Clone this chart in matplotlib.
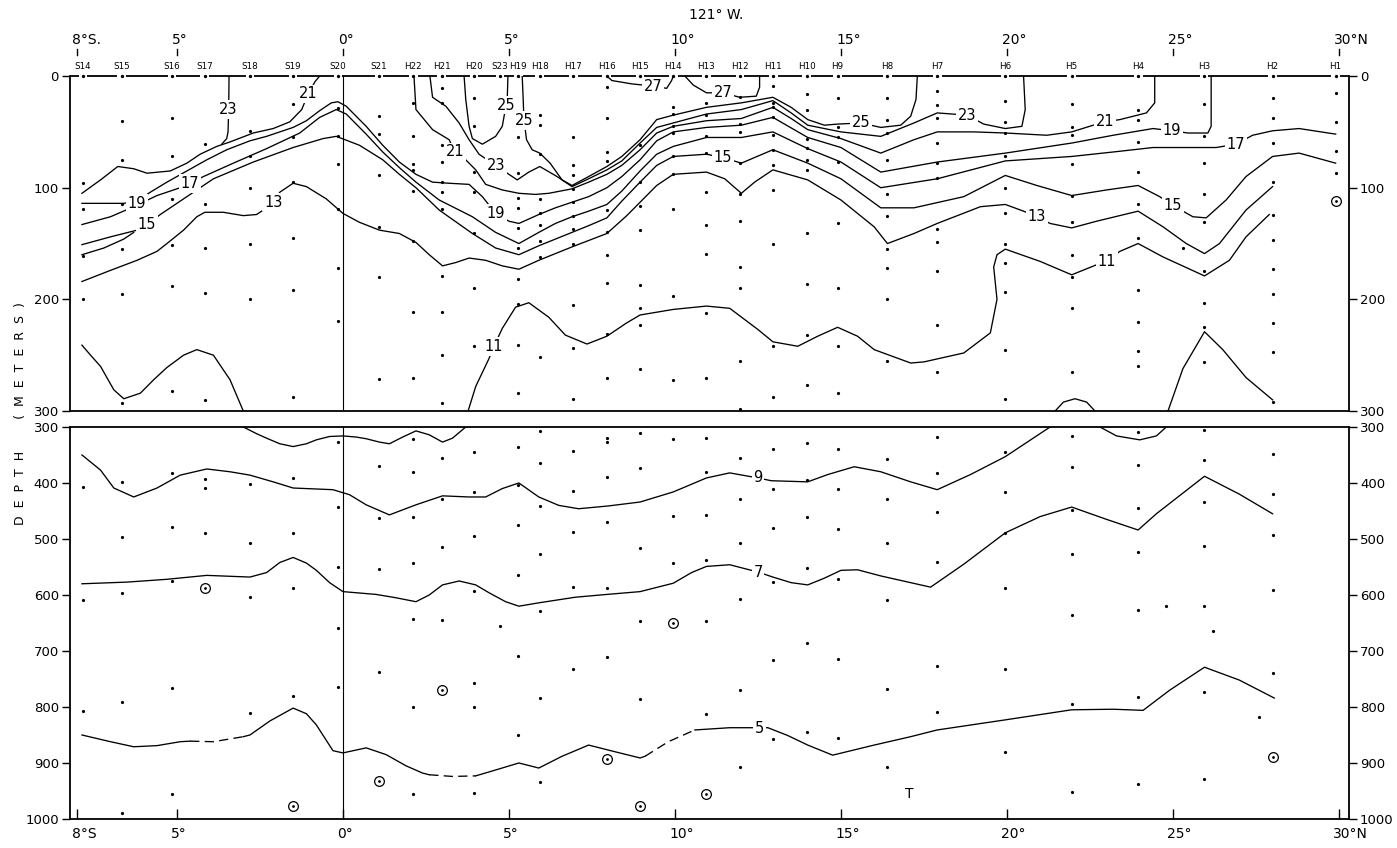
import matplotlib
matplotlib.use("Agg")
import matplotlib.pyplot as plt
import matplotlib.transforms as mtrans

# stations along 121 W, latitude in degrees (negative = south)
stations = ["S14", "S15", "S16", "S17", "S18", "S19", "S20", "S21", "H22", "H21",
            "H20", "S23", "H19", "H18", "H17", "H16", "H15", "H14", "H13", "H12",
            "H11", "H10", "H9", "H8", "H7", "H6", "H5", "H4", "H3", "H2", "H1"]
station_lat = [-7.83, -6.66, -5.15, -4.16, -2.80, -1.50, -0.15, 1.09, 2.12, 2.97,
               3.95, 4.73, 5.28, 5.93, 6.94, 7.94, 8.95, 9.95, 10.95, 11.96,
               12.96, 13.97, 14.90, 16.40, 17.90, 19.94, 21.95, 23.96, 25.94, 28.0, 29.9]

# sampled depths (m) at each station, 0-300 m
top_dots = [
    [96, 119, 161, 200], [40, 75, 115, 155, 195, 293], [38, 72, 110, 151, 188, 282],
    [61, 115, 154, 194, 290], [49, 72, 100, 150, 200], [25, 55, 95, 145, 192, 287],
    [29, 54, 79, 119, 172, 219], [36, 52, 89, 135, 180, 271],
    [24, 54, 79, 84, 103, 148, 211, 270], [11, 24, 62, 77, 95, 104, 119, 179, 211, 250, 293],
    [20, 45, 86, 104, 141, 190, 242], [],
    [55, 87, 109, 118, 136, 154, 182, 204, 241, 284], [35, 44, 70, 110, 123, 133, 148, 162, 252],
    [55, 80, 89, 101, 113, 125, 137, 150, 205, 244, 289], [10, 38, 68, 76, 120, 140, 160, 185, 231, 270],
    [62, 95, 116, 138, 187, 208, 223, 262], [28, 34, 45, 51, 72, 88, 119, 197, 272],
    [24, 35, 54, 69, 104, 133, 159, 212, 270], [19, 43, 50, 78, 106, 130, 171, 190, 255, 298],
    [9, 24, 28, 37, 53, 66, 80, 102, 150, 242, 287], [16, 30, 56, 64, 75, 84, 141, 186, 232, 277],
    [20, 46, 55, 77, 132, 190, 242, 284], [20, 39, 51, 75, 106, 125, 155, 172, 200, 255],
    [13, 26, 38, 60, 78, 91, 137, 149, 175, 223, 265], [22, 41, 51, 72, 100, 123, 150, 167, 193, 245, 289],
    [25, 46, 53, 79, 107, 131, 160, 180, 208, 265], [30, 39, 59, 86, 115, 145, 192, 220, 246, 260],
    [25, 54, 78, 106, 131, 175, 203, 225, 256], [20, 38, 60, 95, 124, 147, 173, 195, 221, 247, 292],
    [15, 41, 67, 87]]

# sampled depths (m) at each station, 300-1000 m
deep_dots = [
    [407, 609, 807], [398, 497, 596, 791, 989], [382, 479, 575, 766, 956], [393, 409, 489],
    [402, 507, 604, 811], [391, 489, 588, 780], [327, 443, 550, 659, 764], [370, 463, 554, 738],
    [321, 380, 461, 543, 643, 800, 956], [355, 429, 514, 645], [345, 416, 495, 593, 757, 800, 954],
    [655], [336, 404, 475, 564, 709, 850], [307, 364, 441, 527, 629, 784, 934],
    [343, 414, 487, 586, 733], [320, 327, 389, 470, 587, 711], [311, 373, 516, 646, 786],
    [321, 459, 543], [320, 380, 457, 538, 646, 813], [355, 429, 507, 607, 770, 907],
    [339, 411, 480, 577, 716, 857], [329, 395, 461, 552, 686, 845], [339, 411, 482, 571, 714, 855],
    [357, 429, 507, 609, 768, 907], [318, 382, 452, 541, 727, 809], [345, 416, 489, 588, 732, 880],
    [316, 371, 448, 527, 636, 795, 952], [309, 368, 445, 523, 627, 782, 937],
    [305, 359, 434, 513, 620, 773, 929], [348, 420, 493, 591, 739], []]

extra_top_dots = [(25.3, 154)]
extra_deep_dots = [(24.8, 620), (26.2, 664), (27.6, 818)]
circled_top = [(29.9, 112)]
circled_deep = [(-4.16, 587), (-1.5, 977), (1.09, 932), (2.97, 770), (7.94, 892),
                (8.95, 977), (9.95, 650), (10.95, 955), (28.0, 889)]

# isotherms, (latitude, depth m), upper panel
iso27a = [(7.95, 0), (8.1, 4), (8.7, 7), (9.35, 9), (9.75, 11), (9.9, 4), (9.95, 0)]
iso27b = [(10.3, 0), (10.55, 8), (10.95, 15), (11.45, 15), (11.95, 19), (12.45, 18), (12.55, 10), (12.55, 0)]
iso25a = [(3.65, 0), (3.7, 21), (3.8, 45), (3.9, 56), (4.2, 61), (4.6, 54), (4.8, 45), (4.95, 20), (4.97, 0)]
iso25b = [(5.4, 0), (5.43, 21), (5.45, 38), (5.53, 57), (5.7, 66), (5.93, 69), (6.24, 78), (6.6, 93),
          (6.9, 98), (7.4, 90), (7.95, 81), (8.4, 72), (8.95, 57), (9.45, 39), (9.95, 35), (10.95, 28),
          (12.0, 24), (12.95, 19), (13.5, 28), (14.0, 39), (14.5, 44), (14.9, 43), (15.6, 42),
          (16.2, 46), (16.8, 44), (17.1, 36), (17.26, 21), (17.3, 0)]
iso23a = [(-3.43, 0), (-3.44, 30), (-3.46, 50), (-3.5, 56), (-3.65, 61)]
iso23b = [(2.62, 0), (2.7, 19), (3.1, 27), (3.5, 42), (3.8, 57), (4.1, 70), (4.6, 80), (5.0, 88),
          (5.25, 93), (5.6, 86), (5.93, 81), (6.45, 90), (6.9, 99), (7.4, 92), (7.95, 84), (8.4, 76),
          (8.95, 60), (9.45, 46), (9.95, 42), (10.95, 34), (12.0, 30), (12.95, 22), (13.5, 33),
          (14.0, 44), (15.0, 50), (16.2, 54), (17.2, 42), (17.9, 33), (18.8, 35), (19.3, 43),
          (19.95, 47), (20.45, 45), (20.55, 30), (20.5, 0)]
iso21a = [(-7.86, 105), (-7.3, 93), (-6.78, 81), (-6.3, 83), (-5.9, 87), (-5.2, 85), (-4.7, 78),
          (-4.3, 70), (-3.8, 63), (-3.4, 59), (-2.7, 51), (-2.1, 47), (-1.6, 41), (-1.24, 30),
          (-1.05, 16), (-0.84, 5), (-0.7, 0)]
iso21b = [(2.14, 0), (2.2, 30), (2.7, 48), (3.2, 57), (3.37, 68), (3.7, 75), (4.0, 84), (4.3, 97),
          (4.8, 102), (5.3, 105), (5.8, 106), (6.2, 105), (6.9, 101), (7.4, 95), (7.95, 88), (8.4, 80),
          (8.95, 66), (9.45, 51), (9.95, 45), (10.95, 40), (12.0, 38), (12.95, 28), (13.5, 38),
          (14.0, 48), (15.0, 56), (16.2, 69), (17.2, 57), (17.9, 50), (19.0, 50), (19.95, 51),
          (21.2, 53), (21.95, 50), (22.6, 44), (22.95, 41), (23.4, 39), (24.2, 33), (24.45, 24), (24.45, 0)]
iso19 = [(-7.86, 114), (-6.6, 114), (-6.2, 112), (-5.8, 104), (-5.3, 95), (-4.7, 85), (-4.1, 75),
         (-3.5, 66), (-2.8, 58), (-2.3, 54), (-1.5, 46), (-1.1, 40), (-0.7, 31), (-0.35, 24),
         (-0.15, 23), (0.1, 27), (0.7, 45), (1.2, 62), (1.7, 77), (2.2, 88), (2.7, 95), (3.2, 96),
         (3.8, 97), (4.2, 108), (4.6, 123), (5.0, 130), (5.3, 132), (5.9, 124), (6.4, 118), (6.9, 113),
         (7.4, 108), (7.95, 100), (8.4, 90), (8.95, 75), (9.45, 58), (9.95, 50), (10.95, 46),
         (12.0, 44), (12.95, 37), (14.0, 55), (15.0, 64), (16.2, 86), (17.9, 77), (19.95, 69),
         (21.95, 60), (23.2, 53), (24.4, 47), (24.97, 49), (25.45, 51), (26.05, 51), (26.15, 45), (26.15, 0)]
iso17 = [(-7.86, 133), (-7.0, 126), (-6.3, 117), (-5.6, 107), (-4.9, 100), (-4.6, 96), (-4.2, 90),
         (-3.3, 78), (-2.3, 65), (-1.3, 51), (-0.7, 37), (-0.2, 30), (0.1, 34), (0.7, 52), (1.2, 68),
         (1.7, 82), (2.2, 95), (2.9, 111), (3.9, 126), (4.6, 140), (5.3, 150), (5.9, 140), (6.4, 132),
         (6.9, 126), (7.4, 121), (7.95, 115), (8.4, 103), (8.95, 85), (9.45, 70), (9.95, 63),
         (10.95, 55), (12.0, 55), (12.95, 50), (14.0, 65), (15.0, 77), (16.2, 100), (17.9, 92),
         (19.95, 76), (21.95, 72), (23.2, 68), (24.4, 64), (25.5, 64), (26.3, 64), (26.9, 61),
         (27.4, 53), (28.0, 49), (28.8, 47), (29.9, 52)]
iso15 = [(-7.86, 151), (-7.0, 144), (-6.2, 138), (-5.9, 133), (-5.5, 124), (-4.7, 108), (-3.9, 92),
         (-2.7, 77), (-1.5, 64), (-0.6, 56), (-0.2, 54), (0.5, 62), (1.2, 75), (1.7, 88), (2.2, 100),
         (2.9, 120), (3.9, 141), (4.6, 154), (5.3, 160), (5.9, 152), (6.4, 146), (6.9, 140), (7.4, 134),
         (7.95, 127), (8.4, 112), (8.95, 95), (9.45, 80), (9.95, 72), (10.95, 70), (11.45, 73),
         (12.0, 78), (12.95, 66), (14.0, 78), (15.0, 92), (16.2, 118), (17.2, 118), (18.7, 108),
         (19.95, 89), (20.9, 98), (21.95, 107), (23.0, 102), (23.95, 98), (24.6, 108), (25.0, 116),
         (25.6, 126), (26.0, 127), (26.6, 111), (27.2, 90), (28.0, 72), (28.8, 69), (29.9, 78)]
iso15_hook = [(-7.86, 160), (-7.2, 154), (-6.6, 146), (-6.3, 140)]
iso13 = [(-7.86, 184), (-7.0, 174), (-6.2, 165), (-5.6, 157), (-5.3, 150), (-4.8, 138), (-4.4, 126),
         (-4.16, 122), (-3.6, 122), (-3.0, 125), (-2.6, 124), (-2.3, 118), (-2.1, 113), (-1.9, 104),
         (-1.5, 96), (-1.1, 99), (-0.5, 110), (0.0, 123), (0.5, 131), (1.1, 138), (1.7, 141),
         (2.2, 149), (2.6, 160), (3.0, 170), (3.4, 167), (3.8, 163), (4.3, 165), (4.8, 170),
         (5.3, 173), (5.9, 165), (6.9, 153), (7.95, 141), (8.55, 125), (8.95, 113), (9.45, 98),
         (9.95, 88), (10.95, 86), (11.5, 92), (12.0, 105), (12.4, 95), (12.95, 84), (14.0, 93),
         (15.0, 111), (16.0, 135), (16.4, 150), (17.2, 141), (17.9, 132), (19.2, 117), (19.95, 115),
         (20.5, 121), (20.9, 126), (21.3, 132), (21.95, 136), (22.7, 130), (23.95, 121), (24.7, 135),
         (25.4, 150), (25.95, 159), (26.4, 150), (27.2, 120), (28.0, 99)]
iso11a = [(-7.86, 241), (-7.6, 250), (-7.3, 260), (-6.9, 281), (-6.6, 289), (-6.1, 284), (-5.7, 272),
          (-5.3, 261), (-4.8, 250), (-4.4, 245), (-3.9, 250), (-3.4, 272), (-3.0, 300)]
iso11b = [(3.77, 300), (4.0, 278), (4.4, 253), (4.55, 242), (4.8, 226), (5.2, 207), (5.6, 203),
          (6.2, 216), (6.7, 232), (7.35, 240), (7.95, 233), (8.55, 221), (8.95, 214), (9.95, 209),
          (10.95, 206), (11.65, 208), (12.5, 227), (12.95, 238), (13.7, 242), (14.3, 233), (14.9, 225),
          (15.5, 233), (16.0, 245), (17.1, 257), (17.5, 256), (18.7, 248), (19.5, 230), (19.7, 200),
          (19.6, 171), (19.7, 160), (19.95, 155), (21.0, 166), (21.95, 178), (22.7, 169), (23.0, 166),
          (23.4, 157), (23.95, 150), (24.7, 162), (25.95, 179), (26.7, 165), (27.2, 144), (27.9, 124)]
iso9_up1 = [(21.45, 300), (21.7, 292), (22.05, 289), (22.4, 292), (22.65, 300)]
iso9_up2 = [(24.85, 300), (25.3, 262), (25.95, 229), (26.5, 245), (27.2, 270), (28.0, 290)]

# isotherms, lower panel
iso11_deep = [(-3.0, 300), (-2.6, 312), (-2.3, 320), (-1.9, 330), (-1.5, 335), (-1.1, 330), (-0.8, 323),
              (-0.4, 317), (0.0, 316), (0.4, 318), (0.7, 321), (1.1, 327), (1.4, 330), (1.8, 318),
              (2.2, 307), (2.6, 314), (3.0, 327), (3.3, 320), (3.7, 300)]
iso9 = [(-7.86, 350), (-7.3, 377), (-6.9, 409), (-6.3, 425), (-5.6, 409), (-4.9, 386), (-4.1, 375),
        (-3.4, 380), (-2.8, 386), (-2.1, 398), (-1.5, 409), (-0.3, 412), (0.2, 421), (0.7, 439),
        (1.4, 457), (2.2, 439), (3.0, 423), (3.8, 425), (4.3, 425), (4.8, 410), (5.3, 400), (5.9, 425),
        (6.5, 440), (7.1, 446), (8.0, 441), (8.95, 434), (9.95, 416), (10.95, 391), (11.65, 382),
        (12.5, 391), (12.9, 396), (14.0, 398), (14.6, 385), (15.4, 371), (16.2, 380), (17.1, 398),
        (17.9, 412), (18.9, 385), (19.95, 353), (21.3, 300)]
iso9_deep_arc = [(22.8, 300), (23.3, 316), (24.0, 323), (24.5, 316), (24.8, 300)]
iso7 = [(-7.86, 580), (-6.5, 577), (-5.3, 572), (-4.1, 565), (-2.8, 568), (-2.3, 560), (-1.9, 542),
        (-1.5, 533), (-1.1, 543), (-0.8, 556), (-0.4, 578), (0.0, 594), (1.0, 599), (1.6, 605),
        (2.2, 612), (2.6, 600), (3.0, 582), (3.5, 575), (4.0, 582), (4.4, 596), (4.9, 612), (5.3, 620),
        (5.9, 614), (7.0, 604), (7.95, 599), (8.95, 594), (9.95, 579), (10.5, 560), (10.95, 549),
        (11.65, 546), (12.5, 559), (12.95, 568), (13.5, 578), (14.0, 582), (14.5, 570), (15.0, 556),
        (15.5, 555), (16.2, 566), (17.1, 578), (17.7, 586), (18.7, 545), (19.95, 489), (21.0, 460),
        (21.95, 443), (23.0, 465), (23.95, 484), (24.5, 455), (25.95, 388), (27.0, 420), (28.0, 455)]
iso5 = [(-7.86, 850), (-7.0, 862), (-6.3, 871), (-5.6, 869), (-4.9, 862), (-4.6, 861), (-3.9, 862),
        (-3.0, 853), (-2.8, 850), (-2.2, 825), (-1.5, 802), (-1.1, 812), (-0.8, 832), (-0.3, 878),
        (0.0, 882), (0.7, 873), (1.3, 885), (1.9, 905), (2.4, 918), (2.6, 921), (3.3, 924), (4.0, 923),
        (4.4, 916), (5.3, 900), (5.9, 909), (6.6, 888), (7.4, 868), (8.2, 880), (8.95, 891), (9.1, 888),
        (9.8, 862), (10.6, 841), (11.65, 837), (12.8, 837), (13.4, 851), (14.0, 868), (14.75, 886),
        (16.0, 868), (17.1, 853), (17.9, 841), (19.95, 823), (21.95, 805), (23.2, 804), (24.1, 806),
        (24.9, 770), (25.95, 729), (27.0, 752), (28.05, 784)]
iso5_dashed = [(-4.6, -3.0), (2.6, 4.0), (9.1, 10.6)]

top_labels = [("23", -3.45, 30), ("21", -1.05, 16), ("19", -6.2, 114), ("17", -4.6, 96),
              ("15", -5.9, 133), ("13", -2.1, 113), ("11", 4.55, 242), ("21", 3.37, 68),
              ("23", 4.6, 80), ("25", 4.93, 26), ("25", 5.45, 40), ("19", 4.6, 123),
              ("27", 9.35, 9), ("27", 11.45, 15), ("15", 11.45, 73), ("25", 15.6, 42),
              ("23", 18.8, 35), ("21", 22.95, 41), ("19", 24.97, 49), ("17", 26.9, 61),
              ("15", 25.0, 116), ("13", 20.9, 126), ("11", 23.0, 166)]
deep_labels = [("9", 12.5, 391), ("7", 12.5, 559), ("5", 12.55, 839)]

deg_ticks = [-8, -5, 0, 5, 10, 15, 20, 25, 30]
top_deg_labels = ["8°S.", "5°", "0°", "5°", "10°", "15°", "20°", "25°", "30°N"]
bot_deg_labels = ["8°S", "5°", "0°", "5°", "10°", "15°", "20°", "25°", "30°N"]

plt.rcParams["font.family"] = ["DejaVu Sans"]
fig = plt.figure(figsize=(13.97, 8.48), dpi=100)
ax_top = fig.add_axes([0.0501, 0.5153, 0.9155, 0.3950])
ax_bot = fig.add_axes([0.0501, 0.0342, 0.9155, 0.4623])
XLIM = (-8.22, 30.30)
LW = 0.95


def draw_iso(ax, pts, ls="-"):
    ax.plot([p[0] for p in pts], [p[1] for p in pts], color="k", lw=LW, ls=ls,
            solid_joinstyle="round", dash_joinstyle="round", zorder=2)


def draw_dashed_iso(ax, pts, dashed):
    # split into runs of solid / dashed pieces
    run, style = [pts[0]], None
    for a, b in zip(pts[:-1], pts[1:]):
        mid = (a[0] + b[0]) / 2
        s = (0, (7, 4)) if any(lo <= mid <= hi for lo, hi in dashed) else "-"
        if style is None or s == style:
            run.append(b)
        else:
            draw_iso(ax, run, style)
            run = [a, b]
        style = s
    draw_iso(ax, run, style)


def put_label(ax, txt, x, y):
    ax.text(x, y, txt, fontsize=10.5, ha="center", va="center", zorder=4,
            bbox=dict(boxstyle="square,pad=0.12", fc="white", ec="none"))


for ax in (ax_top, ax_bot):
    ax.set_xlim(*XLIM)
    for sp in ax.spines.values():
        sp.set_linewidth(1.3)
    ax.tick_params(axis="y", direction="out", length=6, width=1.0, left=True, right=True,
                   labelleft=True, labelright=True, labelsize=9.5, pad=2)
    ax.axvline(0, color="k", lw=0.8, zorder=1)

ax_top.set_ylim(300, 0)
ax_top.set_yticks([0, 100, 200, 300])
ax_top.set_xticks([])
ax_top.spines["top"].set_visible(False)

ax_bot.set_ylim(1000, 300)
ax_bot.set_yticks([300, 400, 500, 600, 700, 800, 900, 1000])
ax_bot.set_xticks(deg_ticks)
ax_bot.tick_params(axis="x", direction="in", length=7, width=1.0, top=False, labelbottom=False)

# surface line: dashes broken at each station
gap = 0.13
edges = [XLIM[0]] + station_lat + [XLIM[1]]
for i in range(len(edges) - 1):
    a = edges[i] + (gap if i > 0 else 0)
    b = edges[i + 1] - (gap if i < len(edges) - 2 else 0)
    ax_top.plot([a, b], [0, 0], color="k", lw=1.3, clip_on=False, solid_capstyle="butt", zorder=3)
ax_top.plot(station_lat, [0] * len(station_lat), "o", color="k", ms=2.4, mew=0, clip_on=False, zorder=3)

# sample points
DOT = dict(color="k", ms=2.3, mew=0, ls="none", marker="o", zorder=1)
for lat, deps in zip(station_lat, top_dots):
    ax_top.plot([lat] * len(deps), deps, **DOT)
for lat, deps in zip(station_lat, deep_dots):
    ax_bot.plot([lat] * len(deps), deps, **DOT)
for ax, pts in ((ax_top, extra_top_dots), (ax_bot, extra_deep_dots)):
    ax.plot([p[0] for p in pts], [p[1] for p in pts], **DOT)
for ax, pts in ((ax_top, circled_top), (ax_bot, circled_deep)):
    xs, ys = [p[0] for p in pts], [p[1] for p in pts]
    ax.plot(xs, ys, "o", mfc="white", mec="k", mew=0.9, ms=7, ls="none", zorder=3)
    ax.plot(xs, ys, "o", color="k", ms=2.0, mew=0, ls="none", zorder=3)

# isotherms
for pts in (iso27a, iso27b, iso25a, iso25b, iso23a, iso23b, iso21a, iso21b, iso19, iso17,
            iso15, iso15_hook, iso13, iso11a, iso11b, iso9_up1, iso9_up2):
    draw_iso(ax_top, pts)
for pts in (iso11_deep, iso9, iso9_deep_arc, iso7):
    draw_iso(ax_bot, pts)
draw_dashed_iso(ax_bot, iso5, iso5_dashed)

for txt, x, y in top_labels:
    put_label(ax_top, txt, x, y)
for txt, x, y in deep_labels:
    put_label(ax_bot, txt, x, y)
ax_bot.text(17.05, 955, "T", fontsize=10, ha="center", va="center")

# top annotation: degrees, little ticks, station names, meridian
trans = mtrans.blended_transform_factory(ax_top.transData, ax_top.transAxes)
for lat, lbl in zip(deg_ticks, top_deg_labels):
    ax_top.annotate(lbl, xy=(lat, 1.107), xycoords=trans, xytext=(-3.5, 0),
                    textcoords="offset points", ha="left", va="center", fontsize=10)
    ax_top.plot([lat, lat], [1.062, 1.080], transform=trans, color="k", lw=1.0, clip_on=False)
for lat, name in zip(station_lat, stations):
    ax_top.text(lat, 1.028, name, transform=trans, ha="center", va="center", fontsize=6.3)
ax_top.text(0.505, 1.183, "121° W.", transform=ax_top.transAxes, ha="center", va="center",
            fontsize=10)

# bottom latitude labels
btrans = mtrans.blended_transform_factory(ax_bot.transData, ax_bot.transAxes)
for lat, lbl in zip(deg_ticks, bot_deg_labels):
    ax_bot.annotate(lbl, xy=(lat, 0), xycoords=btrans, xytext=(-4, -11),
                    textcoords="offset points", ha="left", va="center", fontsize=10)

fig.text(0.0145, 0.512, "D  E  P  T  H        (  M  E  T  E  R  S  )", rotation=90, ha="center",
         va="center", fontsize=9)

fig.savefig("out.png", dpi=100)
